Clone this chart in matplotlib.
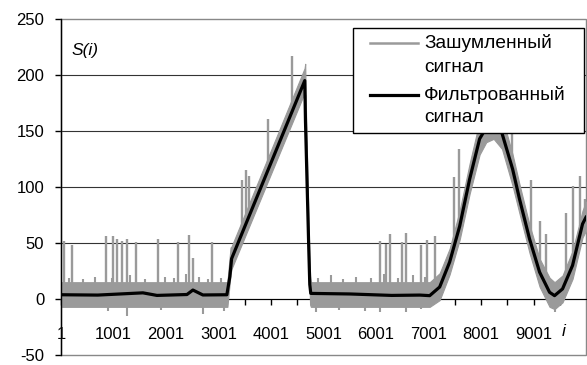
import matplotlib

matplotlib.use("Agg")
import matplotlib.pyplot as plt
from matplotlib.lines import Line2D
from matplotlib.patches import Rectangle

plt.rcParams["font.family"] = ["Liberation Sans", "DejaVu Sans"]

W, H = 587, 365
GRAY = "#9a9a9a"

# filtered signal, breakpoints
FILT_I = [1, 700, 1561, 1828, 2400, 2513, 2703, 3160, 3217, 3250, 4644, 4657, 4720, 4739, 4758,
          5500, 6300, 6833, 7023, 7213, 7403, 7594, 7784, 7974, 8100, 8241, 8400, 8602, 8735,
          8925, 9116, 9306, 9401, 9553, 9744, 9934, 10000]
FILT_S = [3.8, 3.5, 5.5, 3.2, 4.0, 8.0, 3.6, 3.8, 20, 36, 195, 159, 45, 13, 5,
          4.5, 3.2, 3.5, 3.0, 10.7, 33, 65, 107, 143, 153, 158, 148, 116, 89,
          53.6, 24, 6, 3, 9, 30, 67, 73]

# noisy signal: lower / upper edge of the dense band
NOISE_I = [1, 3170, 3230, 3250, 4640, 4652, 4665, 4720, 4745, 4760, 7023, 7213, 7403, 7594,
           7784, 7974, 8100, 8241, 8400, 8602, 8735, 8925, 9116, 9306, 9401, 9553, 9744, 9934, 10000]
NOISE_LO = [-7, -7, 22, 27, 184, 182, 145, 35, -5, -7, -7, -1, 22, 53,
            94, 129, 140, 143, 134, 101, 76, 41, 11, -7, -9, -3, 18, 55, 61]
NOISE_HI = [15, 15, 46, 47, 206, 210, 172, 58, 21, 15, 15, 23, 45, 79,
            121, 159, 168, 172, 163, 129, 102, 66, 36, 19, 15, 21, 43, 79, 87]

# isolated spikes of the noisy signal (position, where it leaves the band, top)
SPIKE_I = [58, 204, 857, 996, 1060, 1156, 1251, 1428, 1852, 2233, 2442, 2518, 2880,
           3454, 3519, 3582, 3950, 4395,
           6085, 6186, 6275, 6496, 6579, 6852, 6979, 7124,
           7486, 7581, 8597, 8945, 9130, 9231, 9611, 9750, 9877, 9972]
SPIKE_LO = [10, 10, 10, 10, 10, 10, 10, 10, 10, 10, 10, 10, 10,
            59, 67, 74, 116, 167,
            10, 10, 10, 10, 10, 10, 10, 10,
            47, 60, 118, 55, 30, 18, 20, 40, 65, 75]
SPIKE_TOP = [52, 48, 56, 56, 54, 52, 54, 51, 54, 51, 57, 37, 51,
             106, 115, 110, 161, 217,
             52, 49, 58, 51, 59, 48, 53, 56,
             109, 134, 165, 106, 70, 58, 77, 101, 110, 89]

# small spikes that make the band edge ragged
FUZZ_I = [150, 420, 640, 980, 1320, 1610, 1980, 2150, 2390, 2620, 2800, 3050,
          4900, 5150, 5380, 5620, 5900, 6150, 6420, 6700, 6930]
FUZZ_TOP = [19, 18, 20, 19, 21, 18, 20, 19, 22, 20, 18, 19,
            19, 21, 18, 20, 19, 22, 19, 21, 20]

# downward dips below the band
DIP_I = [1251, 2700, 4867, 6072, 6579, 6865, 9401, 900, 1900, 3100, 5300, 5800]
DIP_LOW = [-15, -13, -12, -12, -12, -9, -12, -11, -10, -11, -10, -11]

X_MAJOR = [1, 1001, 2001, 3001, 4001, 5001, 6001, 7001, 8001, 9001]
X_MINOR = [501, 1501, 2501, 3501, 4501, 5501, 6501, 7501, 8501, 9501]
Y_TICKS = [-50, 0, 50, 100, 150, 200, 250]

LEGEND_LABELS = ["Зашумленный", "сигнал", "Фильтрованный", "сигнал"]


def fx(x):
    return x / W


def fy(y):
    return 1 - y / H


fig = plt.figure(figsize=(W / 100, H / 100), dpi=100)
ax = fig.add_axes([fx(61), fy(355), (586 - 61) / W, (355 - 19) / H])
ax.set_xlim(1, 10000)
ax.set_ylim(-50, 250)

ax.fill_between(NOISE_I, NOISE_LO, NOISE_HI, color=GRAY, lw=0.8, zorder=2)
ax.vlines(SPIKE_I, SPIKE_LO, SPIKE_TOP, color=GRAY, lw=1.7, zorder=2)
ax.vlines(FUZZ_I, [10] * len(FUZZ_I), FUZZ_TOP, color=GRAY, lw=1.5, zorder=2)
ax.vlines(DIP_I, [0] * len(DIP_I), DIP_LOW, color=GRAY, lw=1.5, zorder=2)
ax.plot(FILT_I, FILT_S, color="black", lw=2.3, zorder=3, solid_joinstyle="round")

# axes and frame
for side in ("top", "right"):
    ax.spines[side].set_visible(False)
ax.spines["bottom"].set_position(("data", 0))
ax.spines["bottom"].set_zorder(1.5)
ax.spines["left"].set_linewidth(1.0)
ax.add_patch(Rectangle((0, 0), 1, 1, transform=ax.transAxes, fill=False,
                       ec="#888888", lw=1.0, zorder=1, clip_on=False))

ax.set_yticks(Y_TICKS)
ax.set_yticklabels([str(v) for v in Y_TICKS])
ax.set_xticks(X_MAJOR)
ax.set_xticklabels([str(v) for v in X_MAJOR])
ax.set_xticks(X_MINOR, minor=True)
ax.tick_params(axis="y", direction="out", length=4, width=1, pad=8, labelsize=12)
ax.tick_params(axis="x", which="both", direction="out", length=4, width=1, pad=16, labelsize=12)

ax.set_axisbelow(True)
ax.yaxis.grid(True, color="#333333", lw=0.8)
gl = ax.yaxis.get_gridlines()
gl[0].set_visible(False)
gl[-1].set_visible(False)

fig.text(fx(72), fy(50), "S(i)", style="italic", fontsize=12.5, va="center")
fig.text(fx(564), fy(332), "i", style="italic", fontsize=12.5, va="center", ha="center")

# legend box
fig.add_artist(Rectangle((fx(353), fy(133)), (584 - 353) / W, (133 - 28) / H,
                         transform=fig.transFigure, fc="white", ec="black", lw=1.0, zorder=4))
fig.add_artist(Line2D([fx(370), fx(418)], [fy(43), fy(43)], transform=fig.transFigure,
                      color=GRAY, lw=1.8, zorder=5))
fig.add_artist(Line2D([fx(370), fx(418)], [fy(95), fy(95)], transform=fig.transFigure,
                      color="black", lw=2.3, zorder=5))
for label, y in zip(LEGEND_LABELS, [43, 68, 95, 118]):
    fig.text(fx(424), fy(y), label, fontsize=13.8, va="center", zorder=6)

fig.savefig("out.png", dpi=100)
